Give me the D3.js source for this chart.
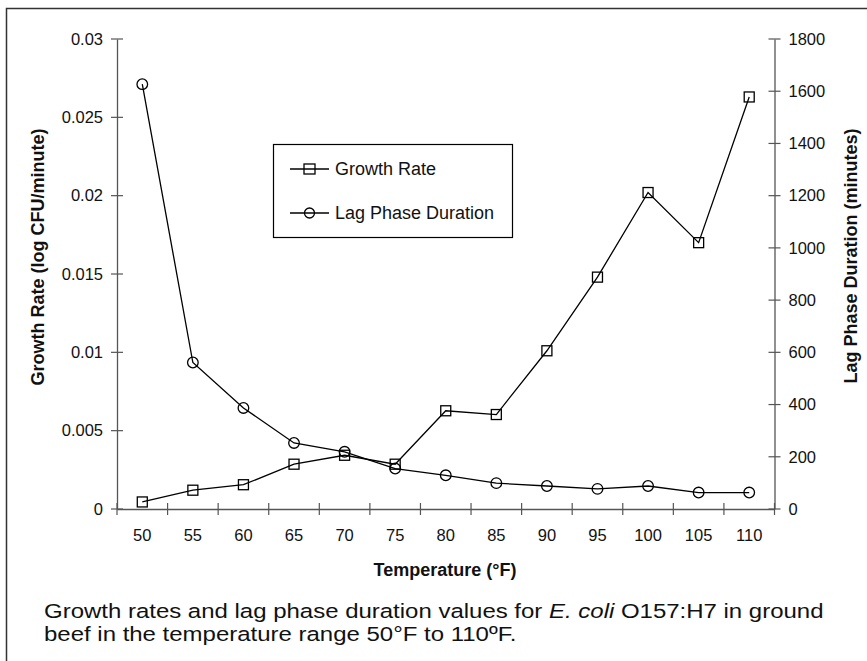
<!DOCTYPE html>
<html><head><meta charset="utf-8">
<script src="https://cdn.jsdelivr.net/npm/d3@7/dist/d3.min.js"></script>
<style>body{margin:0;background:#fff}svg{display:block;font-family:Arial,"Liberation Sans",sans-serif}</style>
</head><body><svg id="c" width="867" height="661"></svg>
<script>
const temperatures = ["50","55","60","65","70","75","80","85","90","95","100","105","110"];
const growthRate = [0.00045,0.0012,0.00155,0.00286,0.00343,0.00286,0.00627,0.00603,0.0101,0.0148,0.0202,0.0170,0.0263];
const lagPhase = [1627,561,387,253,219,155,129,99,88,77,88,63,63];
const leftTicks = [0,0.005,0.01,0.015,0.02,0.025,0.03];
const leftTickLabels = ["0","0.005","0.01","0.015","0.02","0.025","0.03"];
const rightTicks = [0,200,400,600,800,1000,1200,1400,1600,1800];
const seriesNames = ["Growth Rate","Lag Phase Duration"];

const svg = d3.select("#c");
const L = 117, R = 774.5, T = 39, B = 509;
const axisColor = "#555";

svg.append("rect").attr("x",6.5).attr("y",8.5).attr("width",900).attr("height",700)
  .attr("fill","none").attr("stroke","#333").attr("stroke-width",1.5);

const x = d3.scaleBand().domain(temperatures).range([L,R]).padding(0);
const yL = d3.scaleLinear().domain([0,0.03]).range([B,T]);
const yR = d3.scaleLinear().domain([0,1800]).range([B,T]);
const cx = d => x(d) + x.bandwidth()/2;

// axes
const gx = svg.append("g").attr("transform",`translate(0,${B})`)
  .call(d3.axisBottom(x).tickSize(0).tickPadding(20));
const gl = svg.append("g").attr("transform",`translate(${L},0)`)
  .call(d3.axisLeft(yL).tickValues(leftTicks).tickFormat((d,i)=>leftTickLabels[i]).tickSize(0).tickPadding(14));
const gr = svg.append("g").attr("transform",`translate(${R},0)`)
  .call(d3.axisRight(yR).tickValues(rightTicks).tickFormat(d3.format("d")).tickSize(0).tickPadding(14));
[gx,gl,gr].forEach(g=>{
  g.select(".domain").attr("stroke",axisColor).attr("stroke-width",1.3);
  g.selectAll("text").attr("font-size","16.5px").attr("fill","#111").attr("font-family","Arial,'Liberation Sans',sans-serif");
});
// cross ticks
const edges = temperatures.map(t=>x(t)).concat([R]);
svg.append("g").selectAll("line").data(edges).join("line")
  .attr("x1",d=>d).attr("x2",d=>d).attr("y1",B-6).attr("y2",B+6).attr("stroke",axisColor).attr("stroke-width",1.2);
svg.append("g").selectAll("line").data(leftTicks).join("line")
  .attr("x1",L-6).attr("x2",L+6).attr("y1",d=>yL(d)).attr("y2",d=>yL(d)).attr("stroke",axisColor).attr("stroke-width",1.2);
svg.append("g").selectAll("line").data(rightTicks).join("line")
  .attr("x1",R-6).attr("x2",R+6).attr("y1",d=>yR(d)).attr("y2",d=>yR(d)).attr("stroke",axisColor).attr("stroke-width",1.2);

// axis titles
svg.append("text").attr("x",445).attr("y",576).attr("text-anchor","middle")
  .attr("font-size","18px").attr("font-weight","bold").attr("fill","#111").text("Temperature (°F)");
svg.append("text").attr("transform","translate(43.5,257) rotate(-90)").attr("text-anchor","middle")
  .attr("font-size","18px").attr("font-weight","bold").attr("fill","#111").text("Growth Rate (log CFU/minute)");
svg.append("text").attr("transform","translate(856.5,256) rotate(-90)").attr("text-anchor","middle")
  .attr("font-size","18px").attr("font-weight","bold").attr("fill","#111").text("Lag Phase Duration (minutes)");

// series
const gData = temperatures.map((t,i)=>({t,v:growthRate[i]}));
const lData = temperatures.map((t,i)=>({t,v:lagPhase[i]}));
const lineG = d3.line().x(d=>cx(d.t)).y(d=>yL(d.v));
const lineL = d3.line().x(d=>cx(d.t)).y(d=>yR(d.v));
svg.append("path").datum(gData).attr("d",lineG).attr("fill","none").attr("stroke","#000").attr("stroke-width",1.3);
svg.append("g").selectAll("rect").data(gData).join("rect")
  .attr("x",d=>cx(d.t)-5).attr("y",d=>yL(d.v)-5).attr("width",10).attr("height",10)
  .attr("fill","none").attr("stroke","#000").attr("stroke-width",1.3);
svg.append("path").datum(lData).attr("d",lineL).attr("fill","none").attr("stroke","#000").attr("stroke-width",1.3);
svg.append("g").selectAll("circle").data(lData).join("circle")
  .attr("cx",d=>cx(d.t)).attr("cy",d=>yR(d.v)).attr("r",5.3)
  .attr("fill","none").attr("stroke","#000").attr("stroke-width",1.3);

// legend
const lg = svg.append("g");
lg.append("rect").attr("x",273.5).attr("y",144.5).attr("width",239).attr("height",93)
  .attr("fill","#fff").attr("stroke","#000").attr("stroke-width",1.2);
seriesNames.forEach((name,i)=>{
  const yy = 169 + i*44;
  lg.append("line").attr("x1",290).attr("x2",329).attr("y1",yy).attr("y2",yy).attr("stroke","#000").attr("stroke-width",1.3);
  if(i===0) lg.append("rect").attr("x",304).attr("y",yy-5).attr("width",11).attr("height",10).attr("fill","none").attr("stroke","#000").attr("stroke-width",1.3);
  else lg.append("circle").attr("cx",309.5).attr("cy",yy).attr("r",5).attr("fill","none").attr("stroke","#000").attr("stroke-width",1.3);
  lg.append("text").attr("x",335).attr("y",yy).attr("dy","0.35em").attr("font-size","18px").attr("fill","#111").text(name);
});

// caption
const capG = svg.append("g").attr("transform","translate(44,0) scale(1.17,1)");
const cap = capG.append("text").attr("font-size","20.5px").attr("fill","#111");
const l1 = cap.append("tspan").attr("x",0).attr("y",618);
l1.append("tspan").text("Growth rates and lag phase duration values for ");
l1.append("tspan").attr("font-style","italic").text("E. coli");
l1.append("tspan").text(" O157:H7 in ground");
cap.append("tspan").attr("x",0).attr("y",641).text("beef in the temperature range 50°F to 110ºF.");
</script></body></html>
